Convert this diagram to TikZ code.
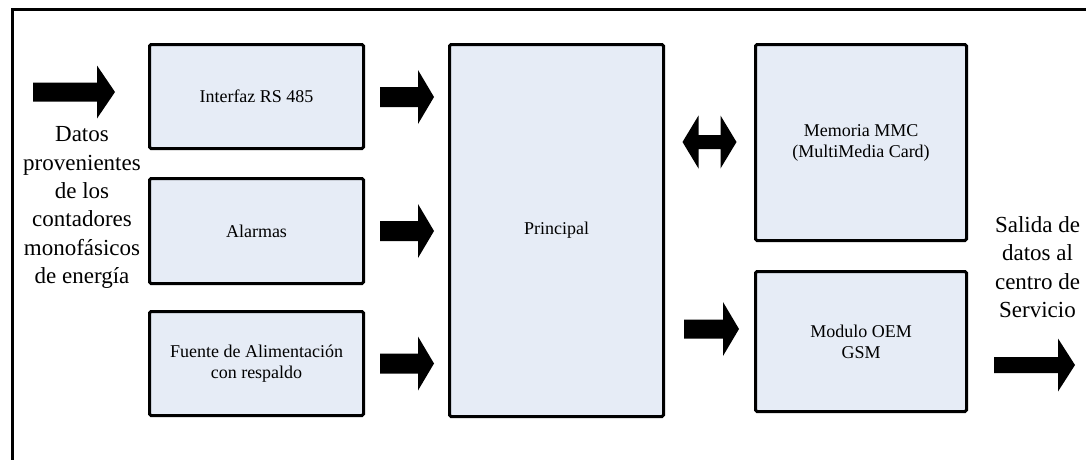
\documentclass[tikz,border=0pt]{standalone}
\usepackage{fontspec}
\setmainfont{Liberation Serif}
\usetikzlibrary{calc}
\definecolor{boxfill}{RGB}{230,236,246}
\tikzset{
  % right-pointing block arrow from its tail: {length}{shaft half-width}{head half-width}{head length}
  pics/rarrow/.style n args={4}{code={%
    \fill[black] (0,-#2) -- ({#1-#4},-#2) -- ({#1-#4},-#3) -- (#1,0)
      -- ({#1-#4},#3) -- ({#1-#4},#2) -- (0,#2) -- cycle;}},
  % two-headed block arrow around its centre: {half length}{shaft half-width}{head half-width}{head length}
  pics/darrow/.style n args={4}{code={%
    \fill[black] (-#1,0) -- ({-#1+#4},-#3) -- ({-#1+#4},-#2) -- ({#1-#4},-#2)
      -- ({#1-#4},-#3) -- (#1,0) -- ({#1-#4},#3) -- ({#1-#4},#2)
      -- ({-#1+#4},#2) -- ({-#1+#4},#3) -- cycle;}}
}
\begin{document}
\begin{tikzpicture}[x=1pt,y=-1pt,
  block/.style={draw=black, line width=3pt, fill=boxfill, rounded corners=1.5pt,
    inner sep=0pt, align=center, font=\fontsize{18}{21}\selectfont},
  sidetext/.style={align=center, inner sep=0pt, font=\fontsize{23}{28.3}\selectfont}
]
\useasboundingbox (0,0) rectangle (1086,459);
\clip (0,0) rectangle (1086,459);

% enclosing frame (open towards the right and bottom edges)
\draw[line width=3pt] (1100,9.5) -- (12,9.5) -- (12,470);

% functional blocks
\node[block, minimum width=214pt, minimum height=104pt] (rs) at (256.5,96.5) {Interfaz RS 485};
\node[block, minimum width=214pt, minimum height=105pt] (alarm) at (256.5,231) {Alarmas};
\node[block, minimum width=214pt, minimum height=104pt] (power) at (256.5,363.5) {Fuente de Alimentación\\con respaldo};
\node[block, minimum width=214pt, minimum height=372pt] (main) at (556.5,230.5) {Principal};
\node[block, minimum width=211pt, minimum height=196pt] (mmc) at (861,142.5) {Memoria MMC\\(MultiMedia Card)};
\node[block, minimum width=211pt, minimum height=140pt] (gsm) at (861,341.5) {Modulo OEM\\GSM};

% side captions
\node[sidetext] (datain) at (82,207.5) {Datos\\provenientes\\de los\\contadores\\monofásicos\\de energía};
\node[sidetext] (dataout) at (1037.5,267) {Salida de\\datos al\\centro de\\Servicio};

% block arrows
\pic (ain) at (33,92) {rarrow={82}{9.5}{26.5}{18}};
\pic (a1) at ($(rs.east)+(15,0.5)$) {rarrow={54}{10}{27}{16}};
\pic (a2) at ($(alarm.east)+(15,0)$) {rarrow={54}{10}{27}{16}};
\pic (a3) at ($(power.east)+(15,0)$) {rarrow={54}{10}{27}{16}};
\pic (dbl) at ($(main.east|-mmc.west)!0.5!(mmc.west)+(0,-0.5)$) {darrow={27}{7}{26.5}{16}};
\pic (a4) at ($(main.east|-gsm.center)+(19,-12.5)$) {rarrow={55}{9.5}{27}{16}};
\pic (aout) at ($(gsm.east)+(26,23.5)$) {rarrow={81}{8}{26.5}{17}};
\end{tikzpicture}
\end{document}
